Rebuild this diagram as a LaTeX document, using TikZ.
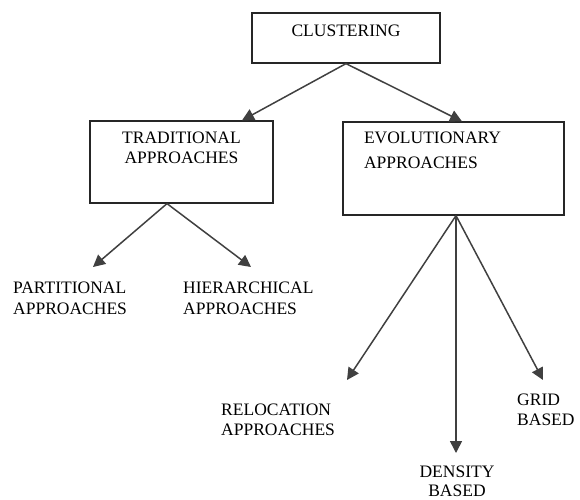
\documentclass[tikz,border=0pt]{standalone}
\usepackage{fontspec}
\setmainfont{Liberation Serif}
\usetikzlibrary{arrows.meta,calc,positioning}
\tikzset{
  box/.style={draw=black!85, line width=1.2pt, inner xsep=0pt, inner ysep=0pt, anchor=base},
  leaf/.style={inner sep=0pt, anchor=base west, align=left},
  arr/.style={-{Triangle[length=12pt,width=12pt]}, line width=1.5pt, black!75},
}
\begin{document}
\begin{tikzpicture}[x=1pt, y=-1pt, every node/.style={font=\fontsize{17.5}{20}\selectfont}]
  \useasboundingbox (0,0) rectangle (580,499);
  % boxes
  \node[box, text width=188pt, text height=23pt, text depth=27pt, align=center] (clus) at (346,36) {CLUSTERING};
  \node[box, text width=183pt, text height=22pt, text depth=60pt, align=center] (trad) at (181.5,143) {TRADITIONAL\\APPROACHES};
  \node[box, inner xsep=21pt, text width=179pt, text height=21pt, text depth=72pt, align=left] (evol) at (453.5,143) {EVOLUTIONARY\\[5pt]APPROACHES};
  % leaves
  \node[leaf, text width=130pt] (part) at (13,293) {PARTITIONAL\\[1pt]APPROACHES};
  \node[leaf, text width=140pt] (hier) at (183,293) {HIERARCHICAL\\[1pt]APPROACHES};
  \node[leaf, text width=130pt] (reloc) at (221,415) {RELOCATION\\APPROACHES};
  \node[leaf, text width=60pt] (grid) at (517,405) {GRID\\BASED};
  \node[leaf, anchor=base, text width=90pt, align=center] (dens) at (457,477) {DENSITY\\[-1pt]BASED};
  % arrows
  \draw[arr] (clus.south) -- ([xshift=60.5pt]trad.north);
  \draw[arr] (clus.south) -- ([xshift=8.5pt]evol.north);
  \draw[arr] ([xshift=-14.5pt]trad.south) -- ($(part.base west)+(80,-26)$);
  \draw[arr] ([xshift=-14.5pt]trad.south) -- ($(hier.base west)+(68,-26)$);
  \draw[arr] ([xshift=2.5pt]evol.south) -- ($(reloc.base west)+(126,-35)$);
  \draw[arr] ([xshift=2.5pt]evol.south) -- ($(dens.base)+(-1,-24)$);
  \draw[arr] ([xshift=2.5pt]evol.south) -- ($(grid.base west)+(26,-25)$);
\end{tikzpicture}
\end{document}
